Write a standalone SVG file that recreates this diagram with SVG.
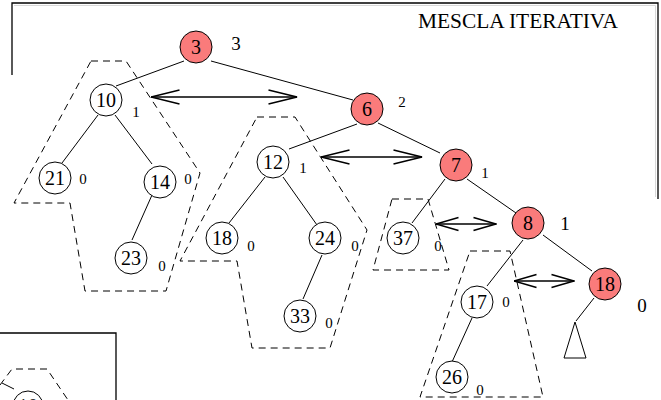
<svg xmlns="http://www.w3.org/2000/svg" width="661" height="400" viewBox="0 0 661 400">
  <defs>
    <style>
      .frame { fill: none; stroke: #000; stroke-width: 1.3; }
      .frame2 { fill: none; stroke: #d8d8d8; stroke-width: 1; }
      .edge { fill: none; stroke: #000; stroke-width: 1; }
      .dash { fill: none; stroke: #000; stroke-width: 1; stroke-dasharray: 7 5; }
      .swap { fill: none; stroke: #000; stroke-width: 1.6; }
      .node circle { fill: #fff; stroke: #000; stroke-width: 1; }
      .node.red circle { fill: #fa7b7b; }
      .node text { font-family: "Liberation Serif", "Times New Roman", serif; font-size: 20px; text-anchor: middle; fill: #000; }
      .rank { font-family: "Liberation Serif", "Times New Roman", serif; font-size: 15px; text-anchor: middle; fill: #000; }
      .rank.big { font-size: 19px; }
      .title { font-family: "Liberation Serif", "Times New Roman", serif; font-size: 20px; fill: #000; }
    </style>
    <!-- open chevron heads; tip sits on the line end -->
    <marker id="open" viewBox="0 0 30 16" refX="29.5" refY="8" markerWidth="30" markerHeight="16" markerUnits="userSpaceOnUse" orient="auto-start-reverse">
      <path d="M1,1 L29.5,8 L1,15" fill="none" stroke="#000" stroke-width="1.6"/>
    </marker>
    <marker id="openShort" viewBox="0 0 24 16" refX="23.5" refY="8" markerWidth="24" markerHeight="16" markerUnits="userSpaceOnUse" orient="auto-start-reverse">
      <path d="M1,1.5 L23.5,8 L1,14.5" fill="none" stroke="#000" stroke-width="1.6"/>
    </marker>
  </defs>

  <!-- outer frames -->
  <g id="frames">
    <path class="frame2" d="M14,5.5 H655.5 V197"/>
    <path class="frame" d="M12,75 V3 H658 V199"/>
    <path class="frame" d="M0,333 H116 V400"/>
  </g>

  <text class="title" x="418" y="28" textLength="200" lengthAdjust="spacingAndGlyphs">MESCLA ITERATIVA</text>

  <!-- dashed groupings of subtrees -->
  <g id="regions">
    <polygon class="dash" points="91,61 126,61 200,173 166,291 85,291 70,203 14,203"/>
    <polygon class="dash" points="257,117 295,117 367,230 330,348 252,348 237,261 180,261"/>
    <polygon class="dash" points="392,199 428,199 449,270 373,270"/>
    <polygon class="dash" points="470,251 510,251 543,397 420,397"/>
    <polyline class="dash" points="0,385 12,369 47,369 68,400"/>
  </g>

  <!-- tree edges -->
  <g id="connectors">
    <line class="edge" x1="184" y1="61" x2="116" y2="86"/>
    <line class="edge" x1="211" y1="61" x2="353" y2="100"/>
    <line class="edge" x1="357" y1="124" x2="289" y2="149"/>
    <line class="edge" x1="378" y1="123" x2="440" y2="153"/>
    <line class="edge" x1="98" y1="115" x2="62" y2="163"/>
    <line class="edge" x1="115" y1="115" x2="152" y2="164"/>
    <line class="edge" x1="152" y1="195" x2="132" y2="240"/>
    <line class="edge" x1="265" y1="177" x2="229" y2="223"/>
    <line class="edge" x1="283" y1="177" x2="317" y2="225"/>
    <line class="edge" x1="322" y1="255" x2="303" y2="299"/>
    <line class="edge" x1="445" y1="179" x2="412" y2="223"/>
    <line class="edge" x1="467" y1="179" x2="516" y2="213"/>
    <line class="edge" x1="523" y1="240" x2="487" y2="286"/>
    <line class="edge" x1="543" y1="235" x2="592" y2="271"/>
    <line class="edge" x1="472" y1="318" x2="452" y2="362"/>
    <line class="edge" x1="594" y1="298" x2="576" y2="321"/>
    <polygon class="edge" points="575,322 564,358 586,358"/>
    <line class="edge" x1="2" y1="383" x2="14" y2="389"/>
    <!-- swap arrows -->
    <line class="swap" x1="151" y1="97" x2="297" y2="97" marker-start="url(#open)" marker-end="url(#open)"/>
    <line class="swap" x1="321" y1="157" x2="422" y2="157" marker-start="url(#open)" marker-end="url(#open)"/>
    <line class="swap" x1="436" y1="224" x2="496" y2="224" marker-start="url(#openShort)" marker-end="url(#openShort)"/>
    <line class="swap" x1="514" y1="281" x2="574" y2="281" marker-start="url(#openShort)" marker-end="url(#openShort)"/>
  </g>

  <!-- nodes -->
  <g id="n3" class="node red"><circle cx="196" cy="47" r="16"/><text x="196" y="54">3</text></g>
  <g id="n10" class="node"><circle cx="106" cy="100" r="16"/><text x="106" y="107">10</text></g>
  <g id="n21" class="node"><circle cx="55" cy="178" r="16"/><text x="55" y="185">21</text></g>
  <g id="n14" class="node"><circle cx="160" cy="182" r="16"/><text x="160" y="189">14</text></g>
  <g id="n23" class="node"><circle cx="131" cy="258" r="16"/><text x="131" y="265">23</text></g>
  <g id="n6" class="node red"><circle cx="367" cy="109" r="16"/><text x="367" y="116">6</text></g>
  <g id="n12" class="node"><circle cx="273" cy="162" r="16"/><text x="273" y="169">12</text></g>
  <g id="n18a" class="node"><circle cx="222" cy="238" r="16"/><text x="222" y="245">18</text></g>
  <g id="n24" class="node"><circle cx="325" cy="238" r="16"/><text x="325" y="245">24</text></g>
  <g id="n33" class="node"><circle cx="300" cy="316" r="16"/><text x="300" y="323">33</text></g>
  <g id="n7" class="node red"><circle cx="456" cy="165" r="16"/><text x="456" y="172">7</text></g>
  <g id="n37" class="node"><circle cx="403" cy="238" r="16"/><text x="403" y="245">37</text></g>
  <g id="n8" class="node red"><circle cx="528" cy="223" r="16"/><text x="528" y="230">8</text></g>
  <g id="n17" class="node"><circle cx="477" cy="302" r="16"/><text x="477" y="309">17</text></g>
  <g id="n26" class="node"><circle cx="452" cy="377" r="16"/><text x="452" y="384">26</text></g>
  <g id="n18b" class="node red"><circle cx="605" cy="284" r="16"/><text x="605" y="291">18</text></g>
  <g id="n10b" class="node"><circle cx="28" cy="406" r="15"/><text x="28" y="413">10</text></g>

  <!-- ranks -->
  <g id="ranks">
    <text class="rank big" x="236" y="50">3</text>
    <text class="rank" x="136" y="117">1</text>
    <text class="rank" x="83" y="184">0</text>
    <text class="rank" x="188" y="184">0</text>
    <text class="rank" x="162" y="271">0</text>
    <text class="rank" x="402" y="107">2</text>
    <text class="rank" x="303" y="173">1</text>
    <text class="rank" x="251" y="251">0</text>
    <text class="rank" x="355" y="251">0</text>
    <text class="rank" x="329" y="328">0</text>
    <text class="rank" x="485" y="178">1</text>
    <text class="rank" x="438" y="251">0</text>
    <text class="rank big" x="565" y="230">1</text>
    <text class="rank" x="506" y="307">0</text>
    <text class="rank" x="480" y="395">0</text>
    <text class="rank big" x="642" y="312">0</text>
  </g>
</svg>
